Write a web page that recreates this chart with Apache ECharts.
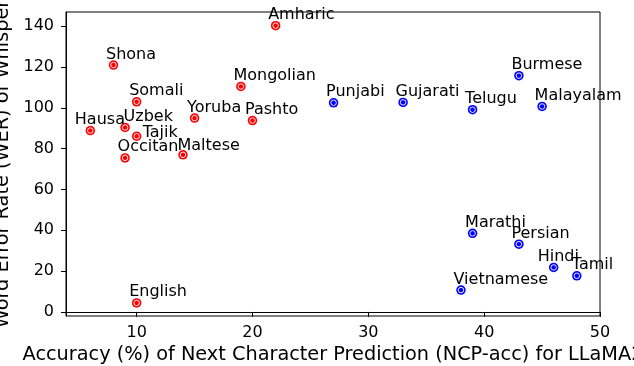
<!DOCTYPE html>
<html>
<head>
<meta charset="utf-8">
<script src="https://cdn.jsdelivr.net/npm/echarts@6/dist/echarts.min.js"></script>
<style>
  html, body { margin: 0; padding: 0; background: #fff; }
  #chart { width: 634px; height: 366px; }
</style>
</head>
<body>
<div id="chart"></div>
<script>
// red group
const redNames = ['Amharic', 'Shona', 'Mongolian', 'Somali', 'Yoruba', 'Pashto', 'Hausa', 'Uzbek', 'Tajik', 'Occitan', 'Maltese', 'English']
const redAcc = [22, 8, 19, 10, 15, 20, 6, 9, 10, 9, 14, 10]
const redWer = [140.3, 121, 110.5, 103, 95, 93.8, 88.9, 90.4, 86.1, 75.5, 77, 4.4]

// blue group
const blueNames = ['Punjabi', 'Gujarati', 'Telugu', 'Burmese', 'Malayalam', 'Marathi', 'Persian', 'Hindi', 'Tamil', 'Vietnamese']
const blueAcc = [27, 33, 39, 43, 45, 39, 43, 46, 48, 38]
const blueWer = [102.5, 102.7, 99.1, 115.8, 100.7, 38.5, 33.2, 21.8, 17.7, 10.7]

const xTicks = [10, 20, 30, 40, 50]
const yTicks = [0, 20, 40, 60, 80, 100, 120, 140]

const xTitle = 'Accuracy (%) of Next Character Prediction (NCP-acc) for LLaMA2'
const yTitle = 'Word Error Rate (WER) of Whisper'

// label placement tweaks (px, relative to the default spot)
const labelNudge = {
  Hausa: [-8, 0],
  Uzbek: [6, 0],
  Tajik: [13.5, 7],
  Maltese: [2, 1.7],
  Hindi: [-8.5, 0],
  Tamil: [2.5, 0]
}

const SIZE = 9.5
function points(names, xs, ys) {
  return names.map((n, i) => {
    const nudge = labelNudge[n] || [0, 0]
    return {
      name: n,
      value: [xs[i], ys[i]],
      label: { position: [SIZE / 2 - 7.5 + nudge[0], SIZE / 2 - 2.6 + nudge[1]] }
    }
  })
}

function dotSeries(names, xs, ys, color) {
  return [{
    type: 'scatter',
    symbol: 'circle',
    symbolSize: SIZE,
    itemStyle: { color: color, opacity: 1 },
    label: {
      show: true,
      formatter: p => p.name,
      align: 'left',
      verticalAlign: 'bottom',
      color: '#000',
      fontSize: 16,
      fontFamily: 'DejaVu Sans'
    },
    emphasis: { disabled: true },
    data: points(names, xs, ys),
    z: 2
  }, {
    type: 'scatter',
    symbol: 'circle',
    symbolSize: 5.5,
    silent: true,
    itemStyle: { color: color, borderColor: '#fff', borderWidth: 0.9, opacity: 1 },
    data: names.map((n, i) => [xs[i], ys[i]]),
    z: 3
  }]
}

const chart = echarts.init(document.getElementById('chart'), null, { renderer: 'canvas' })
const font = 'DejaVu Sans'
chart.setOption({
  animation: false,
  backgroundColor: '#fff',
  grid: {
    left: 66, right: 34, top: 12, bottom: 50,
    outerBoundsMode: 'none',
    containLabel: false,
    show: true, borderColor: '#000', borderWidth: 1
  },
  xAxis: {
    type: 'value',
    min: 3.9,
    max: 50,
    name: xTitle,
    nameLocation: 'middle',
    nameGap: 28,
    nameTextStyle: { fontSize: 19.3, color: '#000', fontFamily: font },
    axisLine: { lineStyle: { color: '#000', width: 1 } },
    axisTick: { length: 5, lineStyle: { color: '#000' }, customValues: xTicks },
    axisLabel: { fontSize: 16, color: '#000', margin: 9, fontFamily: font, customValues: xTicks },
    splitLine: { show: false }
  },
  yAxis: {
    type: 'value',
    min: -2,
    max: 147,
    name: yTitle,
    nameLocation: 'middle',
    nameGap: 46,
    nameTextStyle: { fontSize: 19.3, color: '#000', fontFamily: font },
    axisLine: { show: true, lineStyle: { color: '#000', width: 1 } },
    axisTick: { show: true, length: 5, lineStyle: { color: '#000' }, customValues: yTicks },
    axisLabel: { fontSize: 16, color: '#000', margin: 12, fontFamily: font, customValues: yTicks },
    splitLine: { show: false }
  },
  series: [
    ...dotSeries(redNames, redAcc, redWer, '#ff0000'),
    ...dotSeries(blueNames, blueAcc, blueWer, '#0000ff')
  ]
})
</script>
</body>
</html>
